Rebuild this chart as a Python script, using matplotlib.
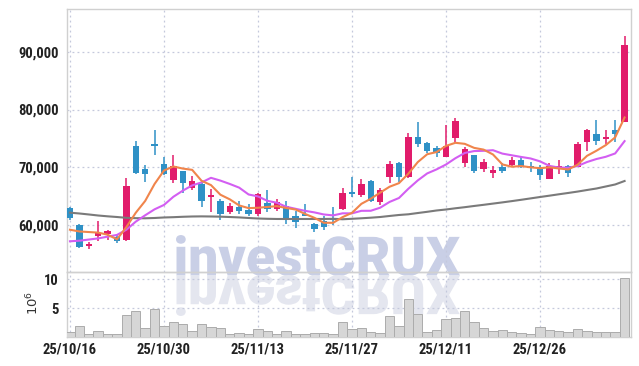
import matplotlib
matplotlib.use('Agg')
import matplotlib.pyplot as plt
from matplotlib.font_manager import FontProperties
from matplotlib.textpath import TextPath
from matplotlib.patches import PathPatch
from matplotlib.transforms import Affine2D, IdentityTransform

plt.rcParams['font.family'] = ['Roboto Condensed', 'Liberation Sans Narrow', 'Roboto', 'DejaVu Sans']

# daily prices (won), 60 trading days
opens = [63000, 60100, 56400, 58200, 58500, 57900, 57500, 73700, 69700, 73800,
         70600, 67800, 69300, 66500, 67100, 64900, 64100, 62200, 63100, 62600,
         61900, 63800, 62800, 63300, 61600, 61900, 60200, 60700, 61200, 62700,
         65700, 65200, 67600, 64000, 68400, 70800, 68400, 75200, 74200, 73300,
         71800, 75000, 70700, 72100, 69700, 69100, 70000, 70400, 71300, 70300,
         70000, 68000, 69800, 70200, 70100, 74400, 75800, 74900, 76400, 77900]
highs = [63100, 60200, 57000, 60700, 59200, 58300, 68100, 74600, 70400, 76400,
         71700, 72100, 69400, 68500, 67200, 66200, 64600, 63800, 64200, 63600,
         65600, 66000, 64500, 64200, 62500, 63600, 60300, 61500, 63100, 66500,
         68300, 67900, 67800, 66400, 71100, 70900, 75900, 77900, 74400, 73700,
         77300, 78500, 73500, 72200, 71400, 70200, 70800, 71800, 71700, 71000,
         70400, 70800, 71300, 70400, 74400, 76600, 78100, 76500, 78100, 92700]
lows = [60800, 56000, 55800, 57300, 57400, 56900, 57300, 68900, 67500, 72200,
        68600, 67200, 65500, 66100, 63200, 62200, 60800, 61900, 61900, 61600,
        61500, 62300, 62500, 60200, 59500, 61500, 58800, 59200, 60100, 62600,
        64900, 64800, 64000, 63500, 67200, 67500, 68100, 73500, 72500, 71800,
        71700, 74400, 70000, 69100, 69200, 68100, 69000, 70300, 69800, 69200,
        67800, 67900, 68800, 68400, 70000, 72900, 73900, 74100, 74400, 77800]
closes = [61200, 56200, 56700, 58600, 59000, 57200, 66800, 69100, 68800, 73700,
          68800, 70300, 67300, 67700, 64200, 65100, 62000, 63300, 62400, 61900,
          65400, 62700, 64000, 60800, 60600, 61600, 59300, 59700, 60800, 65500,
          65300, 67100, 64100, 66100, 70600, 68400, 75300, 74100, 72900, 72500,
          73700, 78000, 73200, 69400, 71000, 69500, 69400, 71200, 70000, 69900,
          68700, 70200, 70200, 69100, 74000, 76400, 74600, 75100, 75800, 91200]

# moving average lines (won)
ma_short = [59200, 58900, 58800, 58700, 58340, 57540, 59660, 62140, 64180, 67120,
            69440, 70140, 69780, 69560, 67660, 66920, 65260, 64460, 63400, 62940,
            63000, 63140, 63280, 62960, 62700, 61940, 61260, 60400, 60400, 61380,
            62120, 63680, 64560, 65620, 66640, 67260, 68900, 70900, 72260, 72640,
            73700, 74240, 74060, 73360, 73060, 72220, 70500, 70100, 70220, 70000,
            69840, 70000, 69800, 69620, 70440, 71980, 72860, 73840, 75180, 78620]
ma_mid = [57200, 57300, 57500, 57700, 58000, 58300, 59200, 60600, 61700, 62730,
          63490, 64900, 65960, 66870, 67390, 68180, 67700, 67120, 66480, 65300,
          64960, 64200, 63870, 63180, 62820, 62470, 62200, 61840, 61680, 62040,
          62030, 62470, 62480, 63010, 64010, 64690, 66290, 67730, 68940, 69640,
          70480, 71570, 72480, 72810, 72850, 72960, 72370, 72080, 71790, 71530,
          71030, 70250, 69950, 69920, 70220, 70910, 71430, 71820, 72400, 74530]
ma_long = [62150, 62010, 61840, 61660, 61520, 61400, 61260, 61200, 61180, 61230,
           61320, 61370, 61440, 61490, 61510, 61490, 61460, 61400, 61330, 61230,
           61140, 61090, 61060, 61060, 61060, 61060, 61060, 61060, 61090, 61010,
           61090, 61180, 61280, 61400, 61580, 61750, 61870, 62090, 62300, 62530,
           62700, 62910, 63100, 63310, 63510, 63720, 63930, 64150, 64380, 64620,
           64860, 65090, 65330, 65560, 65800, 66070, 66330, 66680, 67030, 67630]

# volume, millions of shares
volumes = [0.86, 1.95, 0.57, 1.09, 0.52, 0.52, 3.84, 4.53, 1.55, 4.88,
           1.95, 2.59, 2.29, 1.03, 2.29, 1.72, 1.55, 0.57, 0.69, 0.57,
           1.38, 1.09, 0.52, 1.09, 0.52, 0.52, 0.69, 0.69, 0.52, 2.59,
           1.43, 1.55, 0.86, 0.69, 3.67, 1.95, 6.55, 4.00, 0.86, 1.26,
           3.16, 3.27, 4.53, 2.59, 1.55, 1.09, 1.26, 0.86, 0.69, 0.52,
           1.72, 1.26, 1.09, 0.86, 1.43, 1.09, 0.86, 0.86, 0.86, 10.28]

tick_pos = [0, 10, 20, 30, 40, 50]
tick_labels = ['25/10/16', '25/10/30', '25/11/13', '25/11/27', '25/12/11', '25/12/26']
price_ticks = [60000, 70000, 80000, 90000]
vol_ticks = [5, 10]

UP = '#e11c6b'
DOWN = '#2f91c6'
GRID = '#c4c8dc'
SPINE = '#d0d0d0'

fig = plt.figure(figsize=(6.39, 3.66), dpi=100)
W, H = 639, 366
ax = fig.add_axes([66.5 / W, 1 - 272.3 / H, 564 / W, 263 / H])
axv = fig.add_axes([66.5 / W, 1 - 337.3 / H, 564 / W, 65 / H], sharex=ax)

for a in (ax, axv):
    a.set_facecolor('none')
    for s in a.spines.values():
        s.set_color(SPINE)
        s.set_linewidth(1.0)
    a.grid(True, color=GRID, linestyle=(0, (1.5, 2.5)), linewidth=0.9)
    a.set_axisbelow(True)
    a.tick_params(length=0, colors='#222222', labelsize=10.5)

# watermark with reflection
fp = FontProperties(family=['Roboto', 'DejaVu Sans'], weight=900)
tp = TextPath((0, 0), 'investCRUX', size=1, prop=fp)
bb = tp.get_extents()
sx = 284 / bb.width
sy = 41 / bb.height
tx = 176 - bb.x0 * sx
base = H - 275.5
wm = PathPatch(tp, transform=Affine2D().scale(sx, sy).translate(tx, base) + IdentityTransform(),
               facecolor='#c9cfe6', edgecolor='none', zorder=-2)
wr = PathPatch(tp, transform=Affine2D().scale(sx, -sy).translate(tx, base) + IdentityTransform(),
               facecolor='#e4e6ef', edgecolor='none', zorder=-2)
fig.add_artist(wm)
fig.add_artist(wr)

# candles
idx = list(range(len(closes)))
colors = [UP if c >= o else DOWN for o, c in zip(opens, closes)]
bottoms = [min(o, c) for o, c in zip(opens, closes)]
heights = [max(abs(c - o), 260) for o, c in zip(opens, closes)]
ax.vlines(idx, lows, highs, colors=colors, linewidth=1.1, zorder=3)
ax.bar(idx, heights, bottom=bottoms, width=0.68, color=colors, zorder=4)

ax.plot(idx, ma_long, color='#7a7a7a', linewidth=1.5, zorder=5)
ax.plot(idx, ma_mid, color='#d35ef2', linewidth=1.5, zorder=5)
ax.plot(idx, ma_short, color='#f0854c', linewidth=1.5, zorder=6)

ax.set_xlim(-0.37, 59.63)
ax.set_ylim(51834, 97336)
ax.set_yticks(price_ticks)
ax.set_yticklabels(['{:,}'.format(v) for v in price_ticks], fontweight='bold')
ax.tick_params(axis='y', pad=5.5)
ax.tick_params(axis='x', labelbottom=False)
ax.set_xticks(tick_pos)

axv.bar(idx, volumes, width=1.0, color='#d6d6d6', edgecolor='#acacac', linewidth=0.7, zorder=3)
axv.set_ylim(0, 11.2)
axv.set_yticks(vol_ticks)
axv.set_yticklabels([str(v) for v in vol_ticks], fontweight='bold')
axv.tick_params(axis='y', pad=5.5)
axv.set_xticks(tick_pos)
axv.set_xticklabels(tick_labels, fontweight='bold')
axv.tick_params(axis='x', pad=4)

fig.text(33 / W, 1 - 303 / H, r'$10^6$', rotation=90, ha='center', va='center',
         fontsize=9.5, color='#333333')

fig.savefig('out.png', dpi=100)
plt.close(fig)
